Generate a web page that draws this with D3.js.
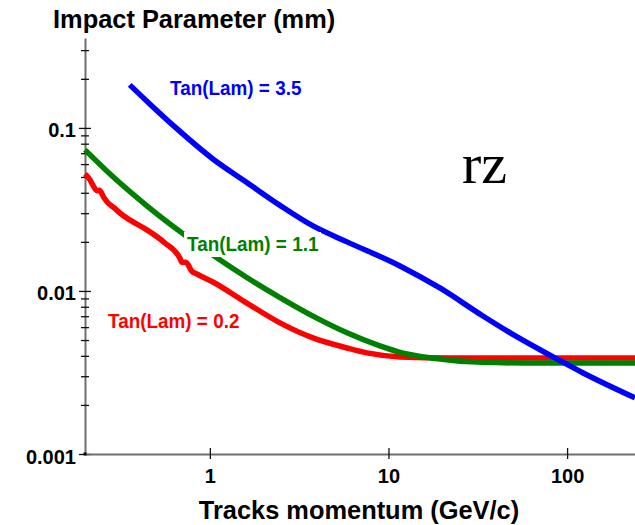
<!DOCTYPE html>
<html>
<head>
<meta charset="utf-8">
<script src="https://cdn.jsdelivr.net/npm/d3@7"></script>
<style>
  body { margin: 0; background: #fff; }
  svg { display: block; }
</style>
</head>
<body>
<div id="chart"></div>
<script>
// tick values
var xTicks = [1, 10, 100]
var yMajorTicks = [0.001, 0.01, 0.1]
var yMinorTicks = [0.002, 0.003, 0.004, 0.005, 0.006, 0.007, 0.008, 0.009,
                   0.02, 0.03, 0.04, 0.05, 0.06, 0.07, 0.08, 0.09, 0.2, 0.3]

// Tan(Lam) = 0.2
var pRed  = [0.20, 0.213, 0.221, 0.233, 0.241, 0.255, 0.268, 0.282, 0.297, 0.313, 0.356, 0.444,
             0.56, 0.679, 0.697, 0.734, 0.793, 0.846, 1.04, 1.61, 2.47, 3.78, 5.86, 7.58, 11.6, 22.1, 240]
var ipRed = [0.0522, 0.0482, 0.0447, 0.0412, 0.0414, 0.0374, 0.0348, 0.0332, 0.0318, 0.0301, 0.0273, 0.0237,
             0.0197, 0.0159, 0.0150, 0.0150, 0.0132, 0.0127, 0.01135, 0.00843, 0.00637, 0.00515, 0.00447, 0.00417, 0.00394, 0.00388, 0.00388]

// Tan(Lam) = 1.1
var pGreen  = [0.20, 0.286, 0.444, 0.679, 1.0, 1.61, 2.47, 3.78, 5.86, 8.96, 11.6, 17.8, 33.8, 70.6, 240]
var ipGreen = [0.0733, 0.0503, 0.0333, 0.0232, 0.01708, 0.01210, 0.00911, 0.00701, 0.00554, 0.00460,
               0.00420, 0.00387, 0.00365, 0.00361, 0.00361]

// Tan(Lam) = 3.5
var pBlue  = [0.356, 0.461, 0.637, 1.04, 1.61, 2.47, 3.78, 5.86, 11.6, 19.4, 33.8, 52.5, 83.5, 123, 240]
var ipBlue = [0.1836, 0.1403, 0.1014, 0.0645, 0.0463, 0.0335, 0.02505, 0.0200, 0.01424, 0.01043,
              0.00702, 0.00522, 0.00394, 0.00314, 0.00221]

var series = [
    {name: "Tan(Lam) = 0.2", color: "#ff0000", p: pRed, ip: ipRed, lx: 108, ly: 328, bg: false},
    {name: "Tan(Lam) = 1.1", color: "#008000", p: pGreen, ip: ipGreen, lx: 187, ly: 251, bg: true},
    {name: "Tan(Lam) = 3.5", color: "#0000ff", p: pBlue, ip: ipBlue, lx: 170, ly: 95, bg: false}
]

var width = 635, height = 525
var margin = {top: 38, right: 0, bottom: 71, left: 85}
var font = "'Liberation Sans', Arial, Helvetica, sans-serif"

var svg = d3.select("#chart").append("svg")
    .attr("width", width)
    .attr("height", height)

var xScale = d3.scaleLog().domain([0.2, 240]).range([margin.left, width - margin.right])
var yScale = d3.scaleLog().domain([0.001, 0.356]).range([height - margin.bottom, margin.top])

// y axis
var yAxis = d3.axisLeft(yScale)
    .tickValues(yMajorTicks.concat(yMinorTicks))
    .tickSizeOuter(0)
    .tickFormat(function (d) { return yMajorTicks.indexOf(d) >= 0 ? String(d) : "" })

var yg = svg.append("g")
    .attr("transform", "translate(" + margin.left + ",0)")
    .call(yAxis)

yg.select(".domain").attr("stroke", "#6f6f6f").attr("stroke-width", 2)
yg.selectAll(".tick line")
    .attr("x1", function (d) { return yMajorTicks.indexOf(d) >= 0 ? 6 : 4 })
    .attr("x2", function (d) { return yMajorTicks.indexOf(d) >= 0 ? -6 : -4 })
    .attr("stroke", "#111").attr("stroke-width", 1.3)
yg.selectAll(".tick text")
    .attr("x", -9).attr("dy", "0.45em")
    .attr("font-family", font).attr("font-size", 20).attr("font-weight", "bold").attr("fill", "#000")

// x axis
var xAxis = d3.axisBottom(xScale)
    .tickValues(xTicks)
    .tickSizeOuter(0)
    .tickFormat(d3.format("d"))

var xg = svg.append("g")
    .attr("transform", "translate(0," + (height - margin.bottom) + ")")
    .call(xAxis)

xg.select(".domain").attr("stroke", "#6f6f6f").attr("stroke-width", 2)
xg.selectAll(".tick line").attr("y1", -6).attr("y2", 5).attr("stroke", "#111").attr("stroke-width", 1.3)
xg.selectAll(".tick text")
    .attr("y", 29).attr("dy", 0)
    .attr("font-family", font).attr("font-size", 20).attr("font-weight", "bold").attr("fill", "#000")

svg.append("rect")
    .attr("x", margin.left - 1.5).attr("y", height - margin.bottom - 1.5)
    .attr("width", 3).attr("height", 3).attr("fill", "#000")

// curves
var line = d3.line()
    .x(function (d) { return xScale(d[0]) })
    .y(function (d) { return yScale(d[1]) })
    .curve(d3.curveMonotoneX)

series.forEach(function (s) {
    svg.append("path")
        .datum(d3.zip(s.p, s.ip))
        .attr("fill", "none")
        .attr("stroke", s.color)
        .attr("stroke-width", 5.5)
        .attr("d", line)
})

// curve labels
series.forEach(function (s) {
    if (s.bg) {
        svg.append("rect")
            .attr("x", s.lx - 3).attr("y", s.ly - 19)
            .attr("width", 137).attr("height", 25)
            .attr("fill", "#fff")
    }
    svg.append("text")
        .attr("transform", "translate(" + [s.lx, s.ly] + ") scale(0.9,1)")
        .attr("font-family", font).attr("font-size", 21).attr("font-weight", "bold")
        .attr("fill", s.color)
        .text(s.name)
})

// titles
svg.append("text")
    .attr("x", 53).attr("y", 28)
    .attr("font-family", font).attr("font-size", 25.4).attr("font-weight", "bold")
    .text("Impact Parameter (mm)")

svg.append("text")
    .attr("x", 359).attr("y", 519)
    .attr("text-anchor", "middle")
    .attr("font-family", font).attr("font-size", 25.4).attr("font-weight", "bold")
    .text("Tracks momentum (GeV/c)")

svg.append("text")
    .attr("x", 462).attr("y", 183)
    .attr("font-family", "'Liberation Serif', 'Times New Roman', serif").attr("font-size", 58)
    .text("rz")
</script>
</body>
</html>
